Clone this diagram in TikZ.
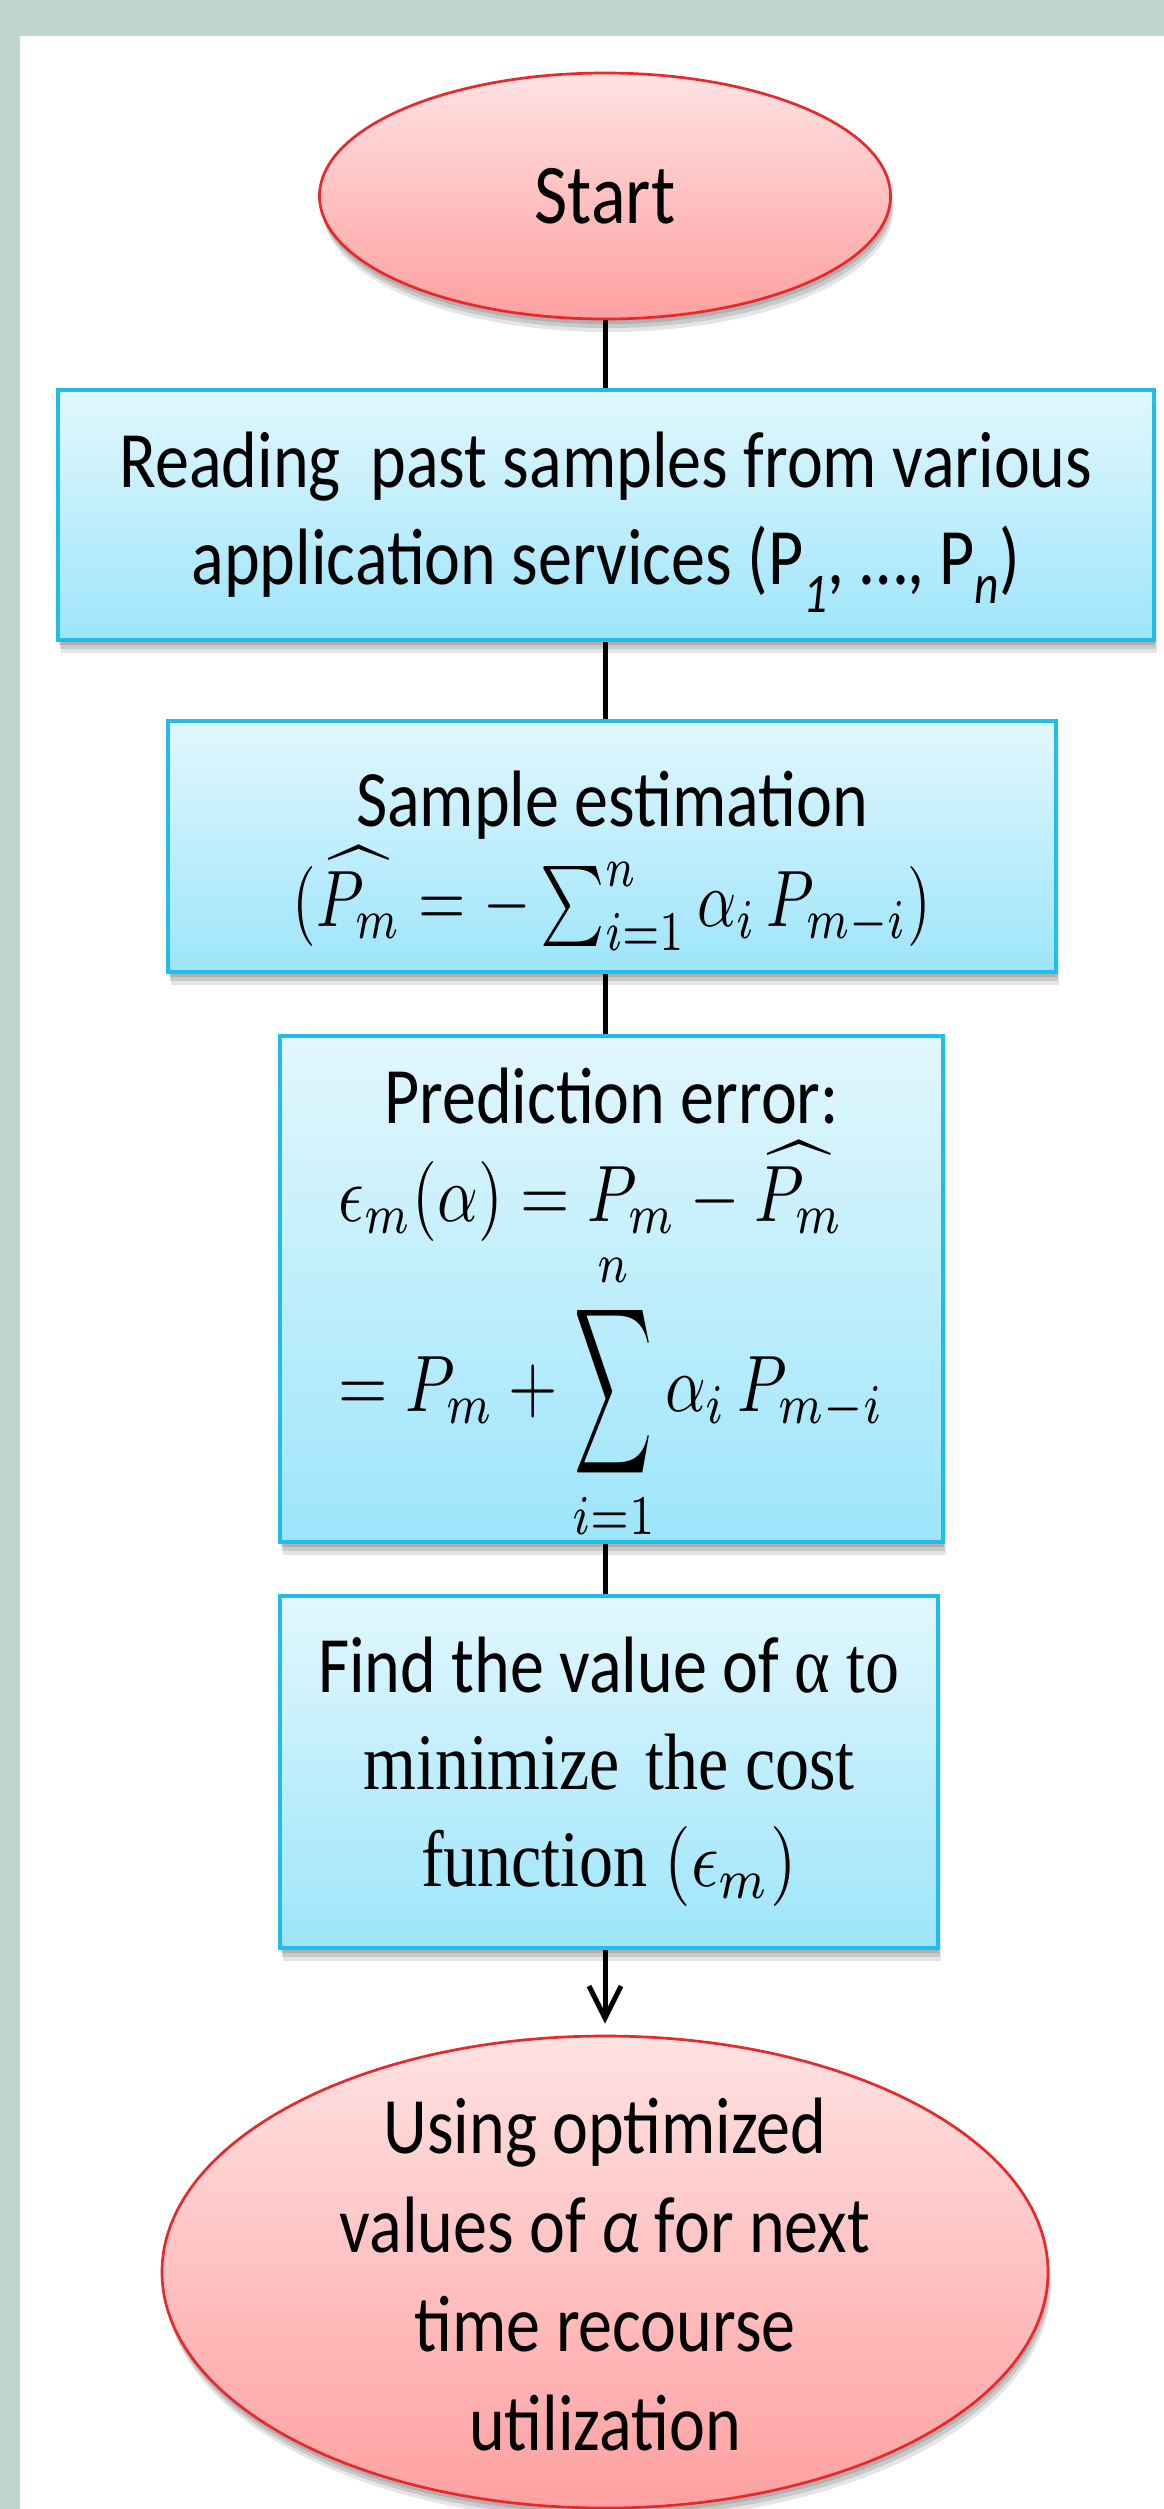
\documentclass[tikz,border=0pt]{standalone}
\usepackage{amsmath}
\usepackage{graphicx}
\usepackage{fontspec}
\usetikzlibrary{shapes.geometric,shadows,arrows.meta}
\newfontfamily\calfont[FakeStretch=0.85]{Carlito}
\newfontfamily\serfont[FakeStretch=0.85]{Liberation Serif}
\definecolor{bgstrip}{RGB}{192,213,206}
\definecolor{boxtop}{RGB}{226,247,253}
\definecolor{boxbot}{RGB}{157,229,251}
\definecolor{boxline}{RGB}{30,189,234}
\definecolor{elltop}{RGB}{255,226,226}
\definecolor{ellbot}{RGB}{255,160,160}
\definecolor{ellline}{RGB}{232,40,42}
% math set at 10pt, then enlarged: #1 times wide, 8x tall
\newcommand\mth[2][6.8]{\scalebox{#1}[8]{\fontsize{10}{12}\selectfont$#2$}}
\newcommand\bigsum{\mathop{\vcenter{\hbox{\scalebox{0.85}[1.45]{$\displaystyle\sum$}}}}\limits}
\tikzset{
  softshadow/.style={
    drop shadow={shadow xshift=1pt, shadow yshift=-5pt, opacity=0.12, fill=black},
    drop shadow={shadow xshift=2pt, shadow yshift=-9pt, opacity=0.12, fill=black},
    drop shadow={shadow xshift=3pt, shadow yshift=-13pt, opacity=0.10, fill=black}},
  procbox/.style={rectangle, draw=boxline, line width=4pt, top color=boxtop, bottom color=boxbot,
    inner sep=0pt, align=center, font=\calfont\fontsize{80}{97}\selectfont, softshadow},
  termell/.style={ellipse, draw=ellline, line width=2.7pt, top color=elltop, bottom color=ellbot,
    inner sep=0pt, softshadow},
  conn/.style={line width=5pt, black},
}
\begin{document}
\begin{tikzpicture}[x=1pt, y=-1pt]
\useasboundingbox (0,0) rectangle (1164,2509);
\fill[bgstrip] (0,0) rectangle (1164,2509);
\fill[white] (20,36) rectangle (1164,2509);
\coordinate (axis) at (605,0);

\node[termell, minimum width=571pt, minimum height=246pt,
      font=\calfont\fontsize{85}{100}\selectfont] (start) at (605,196) {Start};

\node[procbox, minimum width=1096pt, minimum height=250pt] (read) at (606,515)
  {\rule{0pt}{70pt}Reading\hspace{30pt}past samples from various\\application services (P\textsubscript{\textit{1}}, …, P\textsubscript{\textit{n}})};

\node[procbox, minimum width=888pt, minimum height=251pt] (samp) at (612,846.5)
  {\rule{0pt}{84pt}Sample estimation\\[3pt]\mth[6.1]{(\widehat{P_m} = -\sum_{i=1}^{n}\alpha_i\,P_{m-i})}};

\node[procbox, minimum width=663pt, minimum height=488pt] (pred) at (611.5,1289)
  {\rule{0pt}{88pt}Prediction error:\\[1pt]\mth[6.35]{\begin{array}[t]{@{}l@{}}\epsilon_m(\alpha) = P_m - \widehat{P_m}\\ = P_m + \bigsum_{i=1}^{n}\alpha_i\,P_{m-i}\end{array}}};

\node[procbox, minimum width=658pt, minimum height=352pt] (find) at (609,1772)
  {Find the value of {\serfont α to}\\{\serfont minimize\hspace{25pt}the cost}\\{\serfont function \mth{(\epsilon_m)}}};

\node[termell, minimum width=886pt, minimum height=472pt,
      label={[font=\calfont\fontsize{80}{99}\selectfont, align=center, yshift=-2pt]center:{Using optimized\\values of \textit{α} for next\\time recourse\\utilization}}] (use) at (605,2272) {};

\draw[conn] (start.south) -- (read.north -| axis);
\draw[conn] (read.south -| axis) -- (samp.north -| axis);
\draw[conn] (samp.south -| axis) -- (pred.north -| axis);
\draw[conn] (pred.south -| axis) -- (find.north -| axis);
\draw[conn, -{Straight Barb[length=32pt,width=32pt]}, shorten >=11pt] (find.south -| axis) -- (use.north);
\end{tikzpicture}
\end{document}
